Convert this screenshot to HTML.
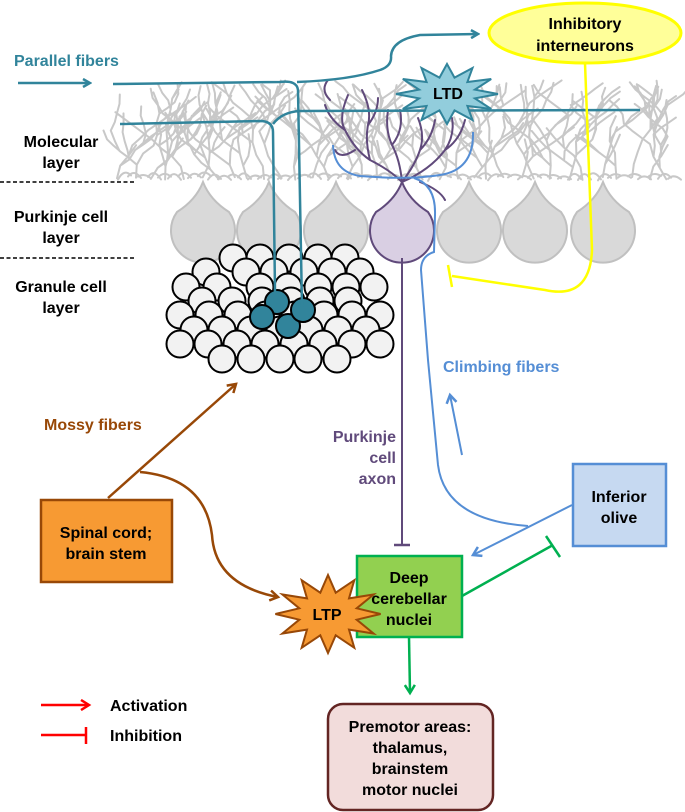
<!DOCTYPE html>
<html><head><meta charset="utf-8"><style>
html,body{margin:0;padding:0;background:#fff;}
svg{display:block;}
text{font-family:"Liberation Sans",Arial,sans-serif;font-weight:bold;}
</style></head><body>
<svg id="s" width="685" height="812" viewBox="0 0 685 812" xmlns="http://www.w3.org/2000/svg">
<defs>
<marker id="aT" markerWidth="10" markerHeight="10" refX="8" refY="5" orient="auto" markerUnits="userSpaceOnUse"><path d="M1,1 L8,5 L1,9" fill="none" stroke="#31849b" stroke-width="2.5"/></marker>
<marker id="aB" markerWidth="12" markerHeight="12" refX="9" refY="6" orient="auto" markerUnits="userSpaceOnUse"><path d="M1,1 L9,6 L1,11" fill="none" stroke="#984807" stroke-width="2.5"/></marker>
<marker id="aL" markerWidth="12" markerHeight="12" refX="9" refY="6" orient="auto" markerUnits="userSpaceOnUse"><path d="M1,1 L9,6 L1,11" fill="none" stroke="#558ed5" stroke-width="2.5"/></marker>
<marker id="aG" markerWidth="12" markerHeight="12" refX="9" refY="6" orient="auto" markerUnits="userSpaceOnUse"><path d="M1,1 L9,6 L1,11" fill="none" stroke="#00b050" stroke-width="2.5"/></marker>
<marker id="aR" markerWidth="12" markerHeight="12" refX="9" refY="6" orient="auto" markerUnits="userSpaceOnUse"><path d="M1,1 L9,6 L1,11" fill="none" stroke="#ff0000" stroke-width="2.5"/></marker>
</defs>
<g id="dend" stroke="#c8c8c8" stroke-width="2" fill="none" stroke-linecap="round" stroke-linejoin="round"></g>
<g fill="#d9d9d9" stroke="#c0c0c0" stroke-width="2">
<path d="M203,182 Q210,200 229,212 A32,32 0 1 1 177,212 Q196,200 203,182Z"/>
<path d="M269,182 Q276,200 295,212 A32,32 0 1 1 243,212 Q262,200 269,182Z"/>
<path d="M336,182 Q343,200 362,212 A32,32 0 1 1 310,212 Q329,200 336,182Z"/>
<path d="M469,182 Q476,200 495,212 A32,32 0 1 1 443,212 Q462,200 469,182Z"/>
<path d="M535,182 Q542,200 561,212 A32,32 0 1 1 509,212 Q528,200 535,182Z"/>
<path d="M603,182 Q610,200 629,212 A32,32 0 1 1 577,212 Q596,200 603,182Z"/>
</g>
<g stroke="#604a7b" stroke-width="2" fill="none" stroke-linecap="round">
<path d="M402,182 Q390,170 370,160 Q355,150 345,130 Q338,118 348,95 M345,130 Q330,120 325,105 M370,160 Q365,140 368,125 Q372,110 362,90 M368,125 Q378,112 378,98 M402,182 Q400,160 392,145 Q385,130 388,110 M392,145 Q404,130 400,110 M402,182 Q415,165 420,150 Q425,135 418,118 M420,150 Q432,138 435,120 M402,182 Q430,170 445,150 Q455,135 452,118 M445,150 Q460,140 465,120 M420,182 Q440,190 445,200 M355,150 Q340,160 335,150 M330,100 Q320,90 328,80"/>
</g>
<path d="M402,182 Q409,200 428,212 A32,32 0 1 1 376,212 Q395,200 402,182Z" fill="#d9cfe3" stroke="#604a7b" stroke-width="2"/>
<line x1="402" y1="258" x2="402" y2="545" stroke="#604a7b" stroke-width="2"/>
<line x1="394" y1="545" x2="410" y2="545" stroke="#604a7b" stroke-width="2.5"/>
<path d="M333,145 Q334,172 360,176 Q410,180 440,175 Q474,170 473,132" fill="none" stroke="#558ed5" stroke-width="2"/>
<path d="M414,178 Q436,185 435,215 L434,252 Q421,256 421,270 L428,360 L438,465 Q445,520 528,526" fill="none" stroke="#558ed5" stroke-width="2"/>
<line x1="462" y1="455" x2="450" y2="395" stroke="#558ed5" stroke-width="2" marker-end="url(#aL)"/>
<line x1="572" y1="505" x2="473" y2="555" stroke="#558ed5" stroke-width="2" marker-end="url(#aL)"/>
<g id="gran" stroke="#000" stroke-width="2" fill="#f2f2f2"></g>
<g stroke="#31849b" stroke-width="2.5" fill="none">
<line x1="18" y1="83" x2="90" y2="83" marker-end="url(#aT)"/>
<path d="M113,84 L280,82 Q297,80 298,90 L302,307"/>
<path d="M297,82 Q350,80 380,70 Q392,66 391,56 Q392,40 420,35 L478,34" marker-end="url(#aT)"/>
<path d="M120,124 L262,121 Q273,122 273,132 L275,292"/>
<path d="M273,124 Q282,112 300,111 L640,110"/>
</g>
<polygon id="ltd" fill="#92cddc" stroke="#31849b" stroke-width="2"/>
<text x="448" y="99" font-size="16" text-anchor="middle">LTD</text>
<ellipse cx="585" cy="33" rx="96" ry="30" fill="#ffff99" stroke="#ffff00" stroke-width="3"/>
<text x="585" y="29" font-size="16" text-anchor="middle">Inhibitory</text>
<text x="585" y="51" font-size="16" text-anchor="middle">interneurons</text>
<path d="M585,63 L592,250 Q590,300 545,290 L452,276" fill="none" stroke="#ffff00" stroke-width="2.5"/>
<line x1="448" y1="265" x2="452" y2="287" stroke="#ffff00" stroke-width="2.5"/>
<text x="14" y="66" font-size="16" fill="#31849b">Parallel fibers</text>
<g font-size="16" text-anchor="middle">
<text x="61" y="147">Molecular</text><text x="61" y="168">layer</text>
<text x="61" y="222">Purkinje cell</text><text x="61" y="243">layer</text>
<text x="61" y="292">Granule cell</text><text x="61" y="313">layer</text>
</g>
<g stroke="#000" stroke-width="1.5" stroke-dasharray="4,2.5"><line x1="0" y1="182" x2="136" y2="182"/><line x1="0" y1="258" x2="136" y2="258"/></g>
<text x="443" y="372" font-size="16" fill="#558ed5">Climbing fibers</text>
<text x="44" y="430" font-size="16" fill="#984807">Mossy fibers</text>
<g font-size="16" fill="#604a7b" text-anchor="end"><text x="396" y="442">Purkinje</text><text x="396" y="463">cell</text><text x="396" y="484">axon</text></g>
<line x1="108" y1="498" x2="236" y2="384" stroke="#984807" stroke-width="2.5" marker-end="url(#aB)"/>
<path d="M140,472 Q205,478 212,535 Q215,585 278,597" fill="none" stroke="#984807" stroke-width="2.5" marker-end="url(#aB)"/>
<rect x="41" y="500" width="131" height="82" fill="#f79a33" stroke="#984807" stroke-width="2.5"/>
<text x="106" y="538" font-size="16" text-anchor="middle">Spinal cord;</text>
<text x="106" y="559" font-size="16" text-anchor="middle">brain stem</text>
<rect x="573" y="464" width="93" height="82" fill="#c6d9f1" stroke="#558ed5" stroke-width="2.5"/>
<text x="619" y="502" font-size="16" text-anchor="middle">Inferior</text>
<text x="619" y="523" font-size="16" text-anchor="middle">olive</text>
<rect x="357" y="556" width="105" height="81" fill="#92d050" stroke="#00b050" stroke-width="2.5"/>
<line x1="462" y1="596" x2="553" y2="545" stroke="#00b050" stroke-width="2.5"/>
<line x1="546" y1="536" x2="560" y2="557" stroke="#00b050" stroke-width="2.5"/>
<polygon id="ltp" fill="#f79a33" stroke="#984807" stroke-width="2"/>
<text x="327" y="620" font-size="16" text-anchor="middle">LTP</text>
<g font-size="16" text-anchor="middle"><text x="409" y="583">Deep</text><text x="409" y="604">cerebellar</text><text x="409" y="625">nuclei</text></g>
<line x1="409" y1="637" x2="410" y2="693" stroke="#00b050" stroke-width="2.5" marker-end="url(#aG)"/>
<rect x="328" y="704" width="165" height="106" rx="15" fill="#f2dcdb" stroke="#632523" stroke-width="2.5"/>
<g font-size="16" text-anchor="middle"><text x="410" y="732">Premotor areas:</text><text x="410" y="753">thalamus,</text><text x="410" y="774">brainstem</text><text x="410" y="795">motor nuclei</text></g>
<line x1="41" y1="705" x2="89" y2="705" stroke="#ff0000" stroke-width="2.5" marker-end="url(#aR)"/>
<line x1="41" y1="735" x2="86" y2="735" stroke="#ff0000" stroke-width="2.5"/>
<line x1="86" y1="727" x2="86" y2="744" stroke="#ff0000" stroke-width="2.5"/>
<text x="110" y="711" font-size="16">Activation</text>
<text x="110" y="741" font-size="16">Inhibition</text>
</svg>
<script>
(function(){
var NS="http://www.w3.org/2000/svg";
var seed=11;function r(){seed=(seed*16807)%2147483647;return seed/2147483647;}
var g=document.getElementById("dend");var d="";
function br(x,y,len,ang,depth){
 var cx=x,cy=y,p="M"+x.toFixed(1)+","+y.toFixed(1);
 var segs=3+Math.floor(r()*3);
 for(var i=0;i<segs;i++){
  ang+= (r()-0.5)*1.0;
  if(ang>-0.6) ang=-0.6; if(ang<-2.5) ang=-2.5;
  cx+=Math.cos(ang)*len; cy+=Math.sin(ang)*len;
  if(cy<80) break;
  p+=" L"+cx.toFixed(1)+","+cy.toFixed(1);
  if(depth>0 && r()<0.5) br(cx,cy,len*0.85,ang+(r()<0.5?-0.8:0.8),depth-1);
 }
 d+=p+" ";
}
for(var x=120;x<680;x+=16){
 br(x+(r()-0.5)*6,177+r()*3,13,-Math.PI/2+(r()-0.5)*0.6,2);
}
var pe=document.createElementNS(NS,"path");pe.setAttribute("d",d);g.appendChild(pe);
d="";for(var x=118;x<676;x+=10){d+="M"+x+","+(176+r()*5)+" Q"+(x+6)+","+(168+r()*6)+" "+(x+13)+","+(175+r()*5)+" ";}
pe=document.createElementNS(NS,"path");pe.setAttribute("d",d);g.appendChild(pe);
var gr=document.getElementById("gran");
var rows=[[258,[233,260,289,318,345]],[272,[206,246,274,304,332,360]],[287,[186,217,260,288,318,346,374]],[301,[202,232,262,291,320,348]],[315,[180,209,238,266,295,324,352,380]],[330,[194,222,251,280,309,338,366]],[344,[180,208,237,265,294,323,352,380]],[359,[222,251,280,308,337]]];
rows.forEach(function(rw){rw[1].forEach(function(x){var c=document.createElementNS(NS,"circle");c.setAttribute("cx",x);c.setAttribute("cy",rw[0]);c.setAttribute("r",13.5);gr.appendChild(c);});});
[[277,302],[262,317],[288,326],[303,310]].forEach(function(p){var c=document.createElementNS(NS,"circle");c.setAttribute("cx",p[0]);c.setAttribute("cy",p[1]);c.setAttribute("r",12);c.setAttribute("fill","#31849b");gr.appendChild(c);});
function star(id,cx,cy,ro,ri,n,sx){var pts=[];for(var i=0;i<2*n;i++){var a=Math.PI*i/n-Math.PI/2;var rr=i%2?ri:ro;pts.push((cx+rr*Math.cos(a)*sx).toFixed(1)+","+(cy+rr*Math.sin(a)).toFixed(1));}document.getElementById(id).setAttribute("points",pts.join(" "));}
star("ltd",447,94,30,17,12,1.7);
star("ltp",328,614,39,22,12,1.35);
})();
</script>
</body></html>
